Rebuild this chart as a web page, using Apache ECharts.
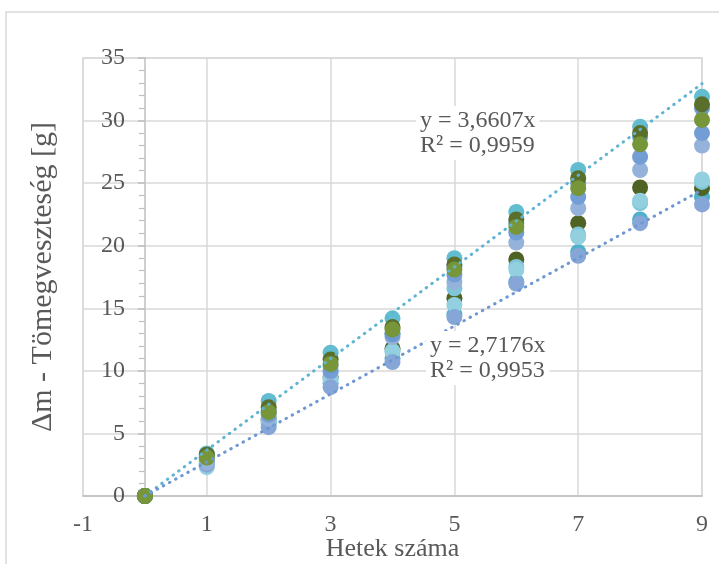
<!DOCTYPE html>
<html><head><meta charset="utf-8">
<script src="https://cdn.jsdelivr.net/npm/echarts@6/dist/echarts.min.js"></script>
<style>html,body{margin:0;padding:0;background:#fff}#c{width:719px;height:564px}</style>
</head><body><div id="c"></div>
<script>
const weeks = [0,1,2,3,4,5,6,7,8,9];
const lowTeal   = [0,2.6,5.8,9.0,11.0,14.5,17.1,19.5,22.1,23.9];
const lowDark   = [0,2.8,6.1,9.5,11.8,15.8,18.9,21.8,24.65,24.6];
const lowCyan   = [0,2.3,5.94,9.27,11.5,15.27,18.07,20.7,23.6,25.3];
const lowSteel  = [0,2.5,5.5,8.7,10.7,14.3,16.97,19.2,21.8,23.3];
const upLight   = [0,2.66,6.2,9.9,12.7,17.1,20.25,23.0,26.05,28.0];
const upBlue2   = [0,3.1,6.5,10.0,12.9,17.7,21.05,23.9,27.1,29.0];
const upCyan2   = [0,2.9,6.0,9.4,11.6,16.6,18.3,20.9,23.4,25.1];
const upBlue1   = [0,3.36,6.8,10.4,13.0,18.3,21.8,25.0,28.7,31.0];
const upTeal    = [0,3.4,7.6,11.45,14.2,19.0,22.7,26.05,29.5,31.9];
const upDark    = [0,3.3,7.1,10.9,13.5,18.5,22.1,25.4,29.0,31.3];
const upOlive   = [0,3.07,6.7,10.55,13.3,18.1,21.5,24.6,28.1,30.05];
const slopeUp = 3.6607, r2Up = '0,9959';
const slopeLow = 2.7176, r2Low = '0,9953';
const xTicks = {min:-1, max:9, interval:2};
const yTicks = {min:0, max:35, interval:5};

const pts = (arr) => weeks.map((w,i)=>[w, arr[i]]);
const scat = (name, arr, color) => ({
  name, type:'scatter', data: pts(arr), symbolSize:16,
  itemStyle:{color, opacity:1}, z:3
});
const trend = (name, slope, color) => ({
  name, type:'line', data:[[0,0],[9,9*slope]], symbol:'none', z:4,
  lineStyle:{color, width:3, type:[0.5,6.5], cap:'round'}, silent:true
});

const chart = echarts.init(document.getElementById('c'), null, {renderer:'canvas'});
const font = 'Liberation Serif, Times New Roman, serif';
chart.setOption({
  animation:false,
  backgroundColor:'#fff',
  grid:{left:83, right:17, top:58, bottom:68, containLabel:false, outerBoundsMode:'none',
        show:true, borderColor:'#d9d9d9', borderWidth:1.5, backgroundColor:'transparent'},
  xAxis:{
    type:'value', min:xTicks.min, max:xTicks.max, interval:xTicks.interval,
    name:'Hetek száma', nameLocation:'middle', nameGap:40, nameMoveOverlap:false,
    nameTextStyle:{fontFamily:font, fontSize:26, color:'#595959', verticalAlign:'top'},
    axisLine:{show:true, onZero:false, lineStyle:{color:'#bfbfbf', width:1.5}},
    axisTick:{show:false},
    axisLabel:{fontFamily:font, fontSize:24, color:'#595959', margin:17},
    splitLine:{show:true, lineStyle:{color:'#d9d9d9', width:1.5}}
  },
  yAxis:{
    type:'value', min:yTicks.min, max:yTicks.max, interval:yTicks.interval,
    name:'Δm - Tömegveszteség [g]', nameLocation:'middle', nameGap:25, nameMoveOverlap:false,
    nameTextStyle:{fontFamily:font, fontSize:30, color:'#595959'},
    axisLine:{show:true, onZero:true, lineStyle:{color:'#bfbfbf', width:1.5}},
    axisTick:{show:true, inside:false, length:7, lineStyle:{color:'#bfbfbf', width:1.5}},
    minorTick:{show:true, splitNumber:5, length:6, lineStyle:{color:'#bfbfbf', width:1.2}},
    axisLabel:{fontFamily:font, fontSize:24, color:'#595959', margin:-42},
    splitLine:{show:true, lineStyle:{color:'#d9d9d9', width:1.5}}
  },
  graphic:[
    {type:'rect', shape:{x:6, y:12, width:800, height:700}, style:{fill:'none', stroke:'#d9d9d9', lineWidth:1.5}, z:-10, silent:true},
    {type:'text', left:416, top:106, z:100, style:{text:'y = '+String(slopeUp).replace('.',',')+'x\nR² = '+r2Up, font:'24px '+font, fill:'#595959', backgroundColor:'#fff', lineHeight:25, padding:[2,4,2,4]}},
    {type:'text', left:426, top:331, z:100, style:{text:'y = '+String(slopeLow).replace('.',',')+'x\nR² = '+r2Low, font:'24px '+font, fill:'#595959', backgroundColor:'#fff', lineHeight:25, padding:[2,4,2,4]}}
  ],
  series:[
    scat('T2', lowTeal, '#4eb1ca'),
    scat('D2', lowDark, '#4f6424'),
    scat('C2', upCyan2, '#7fc6d8'),
    scat('P1', lowCyan, '#92d0df'),
    scat('S1', lowSteel, '#86a6d7'),
    scat('L1', upLight, '#95b3da'),
    scat('B2', upBlue2, '#729ed5'),
    scat('B1', upBlue1, '#6b99d2'),
    scat('T1', upTeal, '#62bdd1'),
    scat('D1', upDark, '#5a6f2c'),
    scat('O1', upOlive, '#77963a'),
    trend('Upper trend', slopeUp, '#5fb4d2'),
    trend('Lower trend', slopeLow, '#6f98d3')
  ]
});
</script></body></html>
